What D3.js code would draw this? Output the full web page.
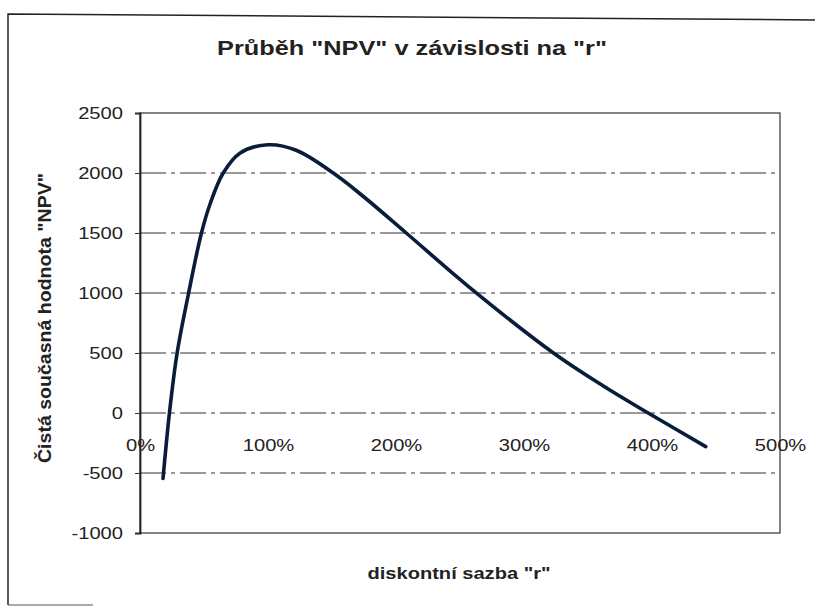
<!DOCTYPE html>
<html>
<head>
<meta charset="utf-8">
<script src="https://cdn.jsdelivr.net/npm/d3@7"></script>
<style>
  body { margin: 0; background: #fff; }
  svg { display: block; font-family: "Liberation Sans", Arial, sans-serif; }
</style>
</head>
<body>
<div id="chart"></div>
<script>
// discount rate r (fraction) and NPV
var rates = [0.18, 0.23, 0.29, 0.38, 0.48, 0.55, 0.65, 0.78, 1.00, 1.22, 1.51, 1.75, 2.08, 2.56, 3.23, 3.62, 3.97, 4.42];
var npv   = [-545, 0, 500, 1000, 1500, 1750, 2000, 2165, 2235, 2190, 2000, 1800, 1500, 1060, 500, 225, 0, -280];

var yTicks = [2500, 2000, 1500, 1000, 500, 0, -500, -1000];
var xTicks = [0, 1, 2, 3, 4, 5];

var title = 'Průběh "NPV" v závislosti na "r"';
var xTitle = 'diskontní sazba "r"';
var yTitle = 'Čistá současná hodnota "NPV"';

var width = 815, height = 606;
var plotL = 140, plotR = 780, plotT = 113, plotB = 533;
var stretch = 1.26; // the scan is wider than it is tall

var svg = d3.select("#chart").append("svg")
  .attr("width", width)
  .attr("height", height);

// outer scanned frame
svg.append("path")
  .attr("d", "M8,605 L8,14 L815,20")
  .attr("fill", "none")
  .attr("stroke", "#222")
  .attr("stroke-width", 1.5);
svg.append("line")
  .attr("x1", 8).attr("x2", 93).attr("y1", 605).attr("y2", 605)
  .attr("stroke", "#555").attr("stroke-width", 1);

var x = d3.scaleLinear().domain([0, 5]).range([plotL, plotR]);
var y = d3.scaleLinear().domain([-1000, 2500]).range([plotB, plotT]);

// gridlines
svg.append("g")
  .selectAll("line")
  .data(yTicks.filter(function(d) { return d > -1000 && d < 2500; }))
  .join("line")
  .attr("x1", plotL).attr("x2", plotR)
  .attr("y1", function(d) { return y(d); })
  .attr("y2", function(d) { return y(d); })
  .attr("stroke", "#333")
  .attr("stroke-width", 1)
  .attr("stroke-dasharray", "26,5,4,5");

// plot frame
svg.append("rect")
  .attr("x", plotL).attr("y", plotT)
  .attr("width", plotR - plotL).attr("height", plotB - plotT)
  .attr("fill", "none")
  .attr("stroke", "#333")
  .attr("stroke-width", 1.2);

// y axis
var yAxis = svg.append("g")
  .attr("transform", "translate(" + plotL + ",0)")
  .call(d3.axisLeft(y).tickValues(yTicks).tickSize(5).tickPadding(12)
    .tickFormat(function(d) { return String(d); }));
yAxis.select(".domain").attr("stroke", "#222").attr("stroke-width", 1.8);
yAxis.selectAll(".tick line").attr("stroke", "#333");
yAxis.selectAll("text").attr("class", "wide");

// x axis labels sit under the zero line
var xAxis = svg.append("g")
  .attr("transform", "translate(0," + y(0) + ")")
  .call(d3.axisBottom(x).tickValues(xTicks).tickSize(0).tickPadding(27)
    .tickFormat(function(d) { return (d * 100) + "%"; }));
xAxis.select(".domain").remove();
xAxis.selectAll("text").attr("class", "wide");

svg.selectAll("text.wide")
  .attr("font-size", 16)
  .attr("fill", "#222")
  .style("font-family", "'Liberation Sans', Arial, sans-serif")
  .each(function() {
    var w = this.getComputedTextLength();
    d3.select(this).attr("textLength", w * stretch).attr("lengthAdjust", "spacingAndGlyphs");
  });

// curve
var pts = rates.map(function(r, i) { return [r, npv[i]]; });
var line = d3.line()
  .x(function(d) { return x(d[0]); })
  .y(function(d) { return y(d[1]); })
  .curve(d3.curveCatmullRom.alpha(0.5));

svg.append("path")
  .datum(pts)
  .attr("d", line)
  .attr("fill", "none")
  .attr("stroke", "#0a1c3c")
  .attr("stroke-width", 3.6)
  .attr("stroke-linecap", "round")
  .attr("stroke-linejoin", "round");

// titles
svg.append("text")
  .attr("x", 412).attr("y", 55)
  .attr("text-anchor", "middle")
  .attr("font-size", 20)
  .attr("font-weight", "bold")
  .attr("fill", "#222")
  .attr("textLength", 390)
  .attr("lengthAdjust", "spacingAndGlyphs")
  .text(title);

svg.append("text")
  .attr("x", 459).attr("y", 579)
  .attr("text-anchor", "middle")
  .attr("font-size", 17)
  .attr("font-weight", "bold")
  .attr("fill", "#222")
  .attr("textLength", 183)
  .attr("lengthAdjust", "spacingAndGlyphs")
  .text(xTitle);

svg.append("text")
  .attr("transform", "translate(51,318) rotate(-90)")
  .attr("text-anchor", "middle")
  .attr("font-size", 18)
  .attr("font-weight", "bold")
  .attr("fill", "#222")
  .attr("textLength", 290)
  .attr("lengthAdjust", "spacingAndGlyphs")
  .text(yTitle);
</script>
</body>
</html>
